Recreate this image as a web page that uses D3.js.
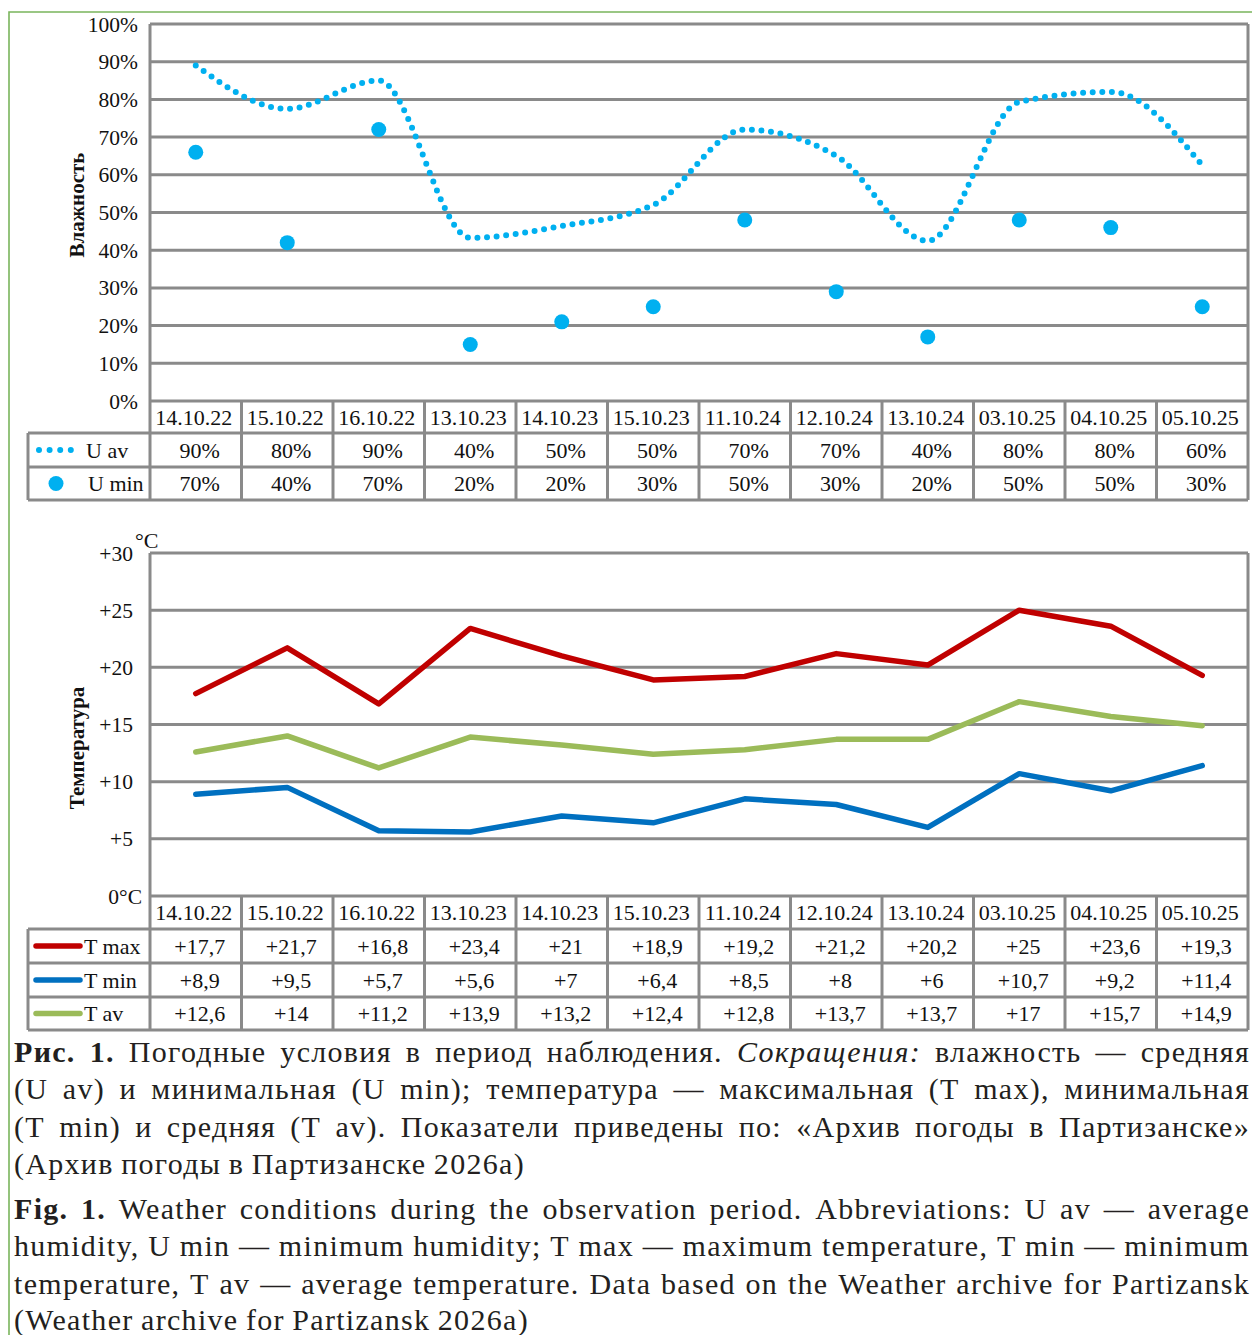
<!DOCTYPE html>
<html><head><meta charset="utf-8">
<script src="https://cdn.jsdelivr.net/npm/d3@7"></script>
<style>
body{margin:0;background:#fff}
svg{display:block}
text{font-family:"Liberation Serif","Times New Roman",serif;fill:#111}
</style>
</head><body>
<svg id="c" width="1252" height="1335"></svg>
<script>
// ---------- DATA ----------
const dates = ["14.10.22","15.10.22","16.10.22","13.10.23","14.10.23","15.10.23","11.10.24","12.10.24","13.10.24","03.10.25","04.10.25","05.10.25"];
const humAvg = [89, 77.5, 85, 43.3, 46.4, 52, 72, 65, 42.5, 79.3, 82, 62.5];
const humMin = [66, 42, 72, 15, 21, 25, 48, 29, 17, 48, 46, 25];
const humAvgLabels = ["90%","80%","90%","40%","50%","50%","70%","70%","40%","80%","80%","60%"];
const humMinLabels = ["70%","40%","70%","20%","20%","30%","50%","30%","20%","50%","50%","30%"];
const humTicks = [0,10,20,30,40,50,60,70,80,90,100];
const tMax = [17.7,21.7,16.8,23.4,21,18.9,19.2,21.2,20.2,25,23.6,19.3];
const tMin = [8.9,9.5,5.7,5.6,7,6.4,8.5,8,6,10.7,9.2,11.4];
const tAv  = [12.6,14,11.2,13.9,13.2,12.4,12.8,13.7,13.7,17,15.7,14.9];
const tempTicks = [0,5,10,15,20,25,30];
const tempTickLabels = ["0°C","+5","+10","+15","+20","+25","+30"];

const captionRu = [
  [["b","Рис. 1."],["n","Погодные условия в период наблюдения."],["i","Сокращения:"],["n","влажность — средняя"]],
  [["n","(U av) и минимальная (U min); температура — максимальная (T max), минимальная"]],
  [["n","(T min) и средняя (T av). Показатели приведены по: «Архив погоды в Партизанске»"]],
  [["n","(Архив погоды в Партизанске 2026а)"]]
];
const captionEn = [
  [["b","Fig. 1."],["n","Weather conditions during the observation period. Abbreviations: U av — average"]],
  [["n","humidity, U min — minimum humidity; T max — maximum temperature, T min — minimum"]],
  [["n","temperature, T av — average temperature. Data based on the Weather archive for Partizansk"]],
  [["n","(Weather archive for Partizansk 2026a)"]]
];

// ---------- STYLE ----------
const GRID = "#8a8a8a";
const CYAN = "#00b0f0";
const RED = "#c00000", BLUE = "#0070c0", GREEN = "#9bbb59";

const svg = d3.select("#c");

// green frame
svg.append("path").attr("d","M9,1335V12H1252").attr("fill","none").attr("stroke","#7ab55c").attr("stroke-width",1.6);

const x = d3.scaleBand().domain(dates).range([150,1248]);
const fmtT = v => "+" + String(v).replace(".", ",");

function panel(opt){
  const g = svg.append("g");
  const y = opt.y;
  const [y0, yTop] = y.range();
  g.selectAll(".grid").data(opt.ticks).join("line")
    .attr("x1",150).attr("x2",1248).attr("y1",d=>y(d)).attr("y2",d=>y(d))
    .attr("stroke",GRID).attr("stroke-width",3);
  g.selectAll(".tl").data(opt.ticks).join("text")
    .attr("x",(d,i)=>opt.tickX(d,i)).attr("y",d=>y(d)).attr("dy","0.35em")
    .attr("text-anchor","end").attr("font-size",opt.tickSize)
    .text((d,i)=>opt.tickLabel(d,i));
  const rowsY = opt.rowsY;
  const tBottom = rowsY[rowsY.length-1];
  rowsY.slice(1).forEach(ry=>{
    g.append("line").attr("x1",28).attr("x2",1248).attr("y1",ry).attr("y2",ry)
      .attr("stroke",GRID).attr("stroke-width",3);
  });
  const bounds = dates.map(d=>x(d)).concat([x.range()[1]]);
  g.selectAll(".vb").data(bounds).join("line")
    .attr("x1",d=>d).attr("x2",d=>d)
    .attr("y1",(d,i)=> (i===0||i===bounds.length-1)? yTop : rowsY[0])
    .attr("y2",tBottom)
    .attr("stroke",GRID).attr("stroke-width",3);
  g.append("line").attr("x1",28).attr("x2",28).attr("y1",rowsY[1]).attr("y2",tBottom)
    .attr("stroke",GRID).attr("stroke-width",3);
  g.selectAll(".hd").data(dates).join("text")
    .attr("x",d=>x(d)+x.bandwidth()/2-2).attr("y",(rowsY[0]+rowsY[1])/2).attr("dy","0.35em")
    .attr("text-anchor","middle").attr("font-size",22).text(d=>d);
  opt.rows.forEach((r,ri)=>{
    const cy = (rowsY[ri+1]+rowsY[ri+2])/2;
    g.selectAll(".rv"+ri).data(r.labels).join("text")
      .attr("x",(d,i)=>x(dates[i])+x.bandwidth()/2+4).attr("y",cy).attr("dy","0.35em")
      .attr("text-anchor","middle").attr("font-size",22).text(d=>d);
    r.legend(g, cy);
  });
  g.append("text").attr("transform",`translate(${opt.titleX},${opt.titleY}) rotate(-90)`)
    .attr("text-anchor","middle").attr("font-size",21).attr("font-weight","bold").text(opt.title);
  return g;
}

// ---------- HUMIDITY ----------
const yH = d3.scaleLinear().domain([0,100]).range([401,24]);
const gH = panel({
  y:yH, ticks:humTicks, tickSize:21.5,
  tickX:()=>138, tickLabel:d=>d+"%",
  rowsY:[401,433,467,500],
  title:"Влажность", titleX:84, titleY:205,
  rows:[
    {labels:humAvgLabels, legend:(g,cy)=>{
      g.append("line").attr("x1",39).attr("x2",71).attr("y1",cy).attr("y2",cy)
        .attr("stroke",CYAN).attr("stroke-width",6).attr("stroke-linecap","round").attr("stroke-dasharray","0 10.6");
      g.append("text").attr("x",86).attr("y",cy).attr("dy","0.35em").attr("font-size",22).text("U av");
    }},
    {labels:humMinLabels, legend:(g,cy)=>{
      g.append("circle").attr("cx",56).attr("cy",cy).attr("r",7.5).attr("fill",CYAN);
      g.append("text").attr("x",88).attr("y",cy).attr("dy","0.35em").attr("font-size",22).text("U min");
    }}
  ]
});
const cx = d => x(d)+x.bandwidth()/2;
gH.append("path").datum(humAvg)
  .attr("d", d3.line().x((d,i)=>cx(dates[i])).y(d=>yH(d)).curve(d3.curveMonotoneX))
  .attr("fill","none").attr("stroke",CYAN).attr("stroke-width",6)
  .attr("stroke-linecap","round").attr("stroke-dasharray","0 9.6");
gH.selectAll(".um").data(humMin).join("circle")
  .attr("cx",(d,i)=>cx(dates[i])).attr("cy",d=>yH(d)).attr("r",7.5).attr("fill",CYAN);

// ---------- TEMPERATURE ----------
const yT = d3.scaleLinear().domain([0,30]).range([896,553]);
const tempLegend = (color,label)=>(g,cy)=>{
  g.append("line").attr("x1",36).attr("x2",80).attr("y1",cy).attr("y2",cy)
    .attr("stroke",color).attr("stroke-width",5.5).attr("stroke-linecap","round");
  g.append("text").attr("x",84).attr("y",cy).attr("dy","0.35em").attr("font-size",22).text(label);
};
const gT = panel({
  y:yT, ticks:tempTicks, tickSize:21.5,
  tickX:(d)=> d===0 ? 142 : 133, tickLabel:(d,i)=>tempTickLabels[i],
  rowsY:[896,929,963,997,1030],
  title:"Температура", titleX:84, titleY:748,
  rows:[
    {labels:tMax.map(fmtT), legend:tempLegend(RED,"T max")},
    {labels:tMin.map(fmtT), legend:tempLegend(BLUE,"T min")},
    {labels:tAv.map(fmtT), legend:tempLegend(GREEN,"T av")}
  ]
});
svg.append("text").attr("x",135).attr("y",548).attr("font-size",22).text("°C");
[[tMax,RED],[tMin,BLUE],[tAv,GREEN]].forEach(([vals,col])=>{
  gT.append("path").datum(vals)
    .attr("d", d3.line().x((d,i)=>cx(dates[i])).y(d=>yT(d)))
    .attr("fill","none").attr("stroke",col).attr("stroke-width",5.5)
    .attr("stroke-linecap","round").attr("stroke-linejoin","round");
});

// ---------- CAPTION ----------
const CF = 30;
const cap = svg.append("g").attr("font-size",CF).attr("letter-spacing","1.3px");
function capLine(segs, y, justify){
  const toks = [];
  segs.forEach(([s,t])=> t.split(" ").forEach(w=>toks.push({s,w})));
  const els = toks.map(tk=>cap.append("text").attr("y",y)
    .attr("font-weight",tk.s==="b"?"bold":null)
    .attr("font-style",tk.s==="i"?"italic":null)
    .style("fill","#231f20").text(tk.w));
  const ws = els.map(e=>e.node().getComputedTextLength());
  const total = d3.sum(ws);
  const gap = justify ? (1250-14-total)/(toks.length-1) : CF*0.25;
  let xx = 14;
  els.forEach((e,i)=>{ e.attr("x",xx); xx += ws[i]+gap; });
}
const ruY = [1062,1099,1137,1174];
const enY = [1219,1256,1294,1330];
captionRu.forEach((l,i)=>capLine(l, ruY[i], i<3));
captionEn.forEach((l,i)=>capLine(l, enY[i], i<3));
</script>
</body></html>
